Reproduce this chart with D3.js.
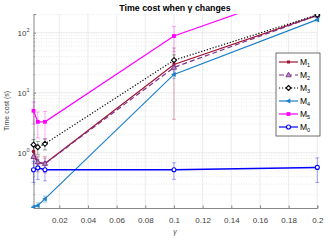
<!DOCTYPE html>
<html><head><meta charset="utf-8">
<script src="https://cdn.jsdelivr.net/npm/d3@7"></script>
<style>body{margin:0;background:#fff}svg{display:block;font-family:"Liberation Sans",Arial,sans-serif}</style>
</head><body>
<svg id="c" width="330" height="248"></svg>
<script>
const gammas = [0.002, 0.005, 0.01, 0.1, 0.2];
const xTicks = [0.02, 0.04, 0.06, 0.08, 0.1, 0.12, 0.14, 0.16, 0.18, 0.2];
const yTicks = [1, 10, 100];
const seriesNames = ["1", "2", "3", "4", "5", "0"];
const m1 = [1.05, 0.68, 0.66, 29.6, 194];
const m2 = [0.86, 0.70, 0.66, 26.4, 195];
const m3 = [1.36, 1.24, 1.41, 34.8, 198];
const m4 = [0.123, 0.132, 0.17, 20.2, 165];
const m5 = [5.0, 3.27, 3.27, 88, 610];
const m0 = [0.52, 0.56, 0.52, 0.52, 0.57];
const e1 = [0.25, 0.2, 0.2, 26, 10];
const e2 = [0.2, 0.15, 0.15, 6, 10];
const e3 = [0.3, 0.3, 0.3, 8, 12];
const e4 = [0.01, 0.015, 0.02, 3, 12];
const e5 = [2.0, 1.5, 1.6, 40, 60];
const e0 = [0.2, 0.2, 0.18, 0.16, 0.25];

const styles = [
  {v:m1,e:e1,color:"#A2142F",dash:null,marker:"sq"},
  {v:m2,e:e2,color:"#7E2F8E",dash:"5,3",marker:"triU"},
  {v:m3,e:e3,color:"#000000",dash:"1.2,1.8",marker:"dia"},
  {v:m4,e:e4,color:"#1a7fc8",dash:null,marker:"triL"},
  {v:m5,e:e5,color:"#FF00FF",dash:null,marker:"sqBig"},
  {v:m0,e:e0,color:"#0000FF",dash:null,marker:"circ"}
];

const svg = d3.select("#c");
const L=33.5, R=317.3, T=14, B=208;
const x = d3.scaleLinear().domain([0.002, 0.2]).range([L, R]);
const y = d3.scaleLog().domain([0.12, 205]).range([B, T]);

svg.append("defs").append("clipPath").attr("id","clip")
  .append("rect").attr("x",L-4).attr("y",T).attr("width",R-L+8).attr("height",B-T);

const minor = [];
for (let d=-1; d<=2; d++) for (let k=2;k<=9;k++){const v=k*Math.pow(10,d); if(v>=0.12&&v<=205) minor.push(v);}
svg.append("g").selectAll("line").data(minor).join("line")
  .attr("x1",L).attr("x2",R).attr("y1",d=>y(d)).attr("y2",d=>y(d))
  .attr("stroke","#dcdcdc").attr("stroke-width",0.6).attr("stroke-dasharray","1,1.5");
svg.append("g").selectAll("line").data(yTicks).join("line")
  .attr("x1",L).attr("x2",R).attr("y1",d=>y(d)).attr("y2",d=>y(d))
  .attr("stroke","#e6e6e6").attr("stroke-width",0.8);
svg.append("g").selectAll("line").data(xTicks).join("line")
  .attr("x1",d=>x(d)).attr("x2",d=>x(d)).attr("y1",T).attr("y2",B)
  .attr("stroke","#e6e6e6").attr("stroke-width",0.8);

const xAxis = svg.append("g").attr("transform",`translate(0,${B})`)
  .call(d3.axisBottom(x).tickValues(xTicks).tickSize(-2.5).tickFormat(d=>d3.format("")(+d.toFixed(2))));
xAxis.select(".domain").attr("stroke","#888");
xAxis.selectAll(".tick line").attr("stroke","#888");
xAxis.selectAll("text").attr("fill","#404040").attr("font-size",8).attr("y",9).attr("dy","0.71em");

const yAxis = svg.append("g").attr("transform",`translate(${L},0)`)
  .call(d3.axisLeft(y).tickValues(yTicks).tickSize(-2.5).tickFormat(""));
yAxis.select(".domain").attr("stroke","#888");
yAxis.selectAll(".tick line").attr("stroke","#888");
svg.append("g").selectAll("line").data(minor).join("line")
  .attr("x1",L).attr("x2",L+1.5).attr("y1",d=>y(d)).attr("y2",d=>y(d)).attr("stroke","#888").attr("stroke-width",0.6);
const yl = svg.append("g").selectAll("text").data(yTicks).join("text")
  .attr("x",L-4).attr("y",d=>y(d)+3).attr("text-anchor","end").attr("fill","#404040").attr("font-size",8);
yl.append("tspan").text("10");
yl.append("tspan").attr("dy",-4).attr("font-size",5.5).text(d=>Math.round(Math.log10(d)));

svg.append("text").attr("x",175).attr("y",11).attr("text-anchor","middle").attr("font-size",8.8).attr("font-weight","bold").attr("fill","#000")
  .text("Time cost when γ changes");
svg.append("text").attr("transform",`translate(9,${(T+B)/2}) rotate(-90)`).attr("text-anchor","middle").attr("font-size",7).attr("fill","#404040").text("Time cost (s)");
svg.append("text").attr("x",175).attr("y",234).attr("text-anchor","middle").attr("font-size",7).attr("fill","#404040").attr("font-style","italic").text("γ");

function marker(g, type, cx, cy, color){
  if(type==="sq") g.append("rect").attr("x",cx-1.5).attr("y",cy-1.5).attr("width",3).attr("height",3).attr("fill",color);
  else if(type==="sqBig") g.append("rect").attr("x",cx-1.9).attr("y",cy-1.9).attr("width",3.8).attr("height",3.8).attr("fill",color);
  else if(type==="triU") g.append("path").attr("d",`M${cx},${cy-2.8}L${cx+2.6},${cy+1.8}L${cx-2.6},${cy+1.8}Z`).attr("fill","#b58cc0").attr("stroke",color).attr("stroke-width",0.9);
  else if(type==="dia") g.append("path").attr("d",`M${cx},${cy-2.5}L${cx+2.5},${cy}L${cx},${cy+2.5}L${cx-2.5},${cy}Z`).attr("fill","#fff").attr("stroke",color).attr("stroke-width",1.1);
  else if(type==="triL") g.append("path").attr("d",`M${cx-2.8},${cy}L${cx+1.8},${cy-2.6}L${cx+1.8},${cy+2.6}Z`).attr("fill",color);
  else if(type==="circ") g.append("circle").attr("cx",cx).attr("cy",cy).attr("r",2).attr("fill","#fff").attr("stroke",color).attr("stroke-width",1.1);
}

const plot = svg.append("g").attr("clip-path","url(#clip)");
const line = d3.line().x((d,i)=>x(gammas[i])).y(d=>y(d));
styles.forEach(s=>{
  const g = plot.append("g");
  s.v.forEach((v,i)=>{
    const lo = Math.max(v - s.e[i], 0.05), hi = v + s.e[i];
    const cx = x(gammas[i]);
    g.append("line").attr("x1",cx).attr("x2",cx).attr("y1",y(lo)).attr("y2",y(hi)).attr("stroke",s.color).attr("stroke-opacity",0.35).attr("stroke-width",1);
    [lo,hi].forEach(b=>g.append("line").attr("x1",cx-2).attr("x2",cx+2).attr("y1",y(b)).attr("y2",y(b)).attr("stroke",s.color).attr("stroke-opacity",0.35).attr("stroke-width",1));
  });
});
styles.forEach(s=>{
  const g = plot.append("g");
  g.append("path").datum(s.v).attr("d",line).attr("fill","none").attr("stroke",s.color).attr("stroke-width",s.marker==="circ"?1.5:1.2)
    .attr("stroke-dasharray",s.dash);
  s.v.forEach((v,i)=>marker(g,s.marker,x(gammas[i]),y(v),s.color));
});

const lg = svg.append("g");
lg.append("rect").attr("x",276).attr("y",53).attr("width",44).attr("height",83).attr("fill","#fff").attr("stroke","#333").attr("stroke-width",0.7);
styles.forEach((s,i)=>{
  const yy = 62 + i*13;
  lg.append("line").attr("x1",279).attr("x2",298).attr("y1",yy).attr("y2",yy).attr("stroke",s.color).attr("stroke-width",1.2).attr("stroke-dasharray",s.dash);
  marker(lg,s.marker,288.5,yy,s.color);
  const t = lg.append("text").attr("x",300).attr("y",yy+3).attr("font-size",8.5).attr("fill","#000");
  t.append("tspan").text("M");
  t.append("tspan").attr("dy",2).attr("font-size",5.5).text(seriesNames[i]);
});
</script>
</body></html>
